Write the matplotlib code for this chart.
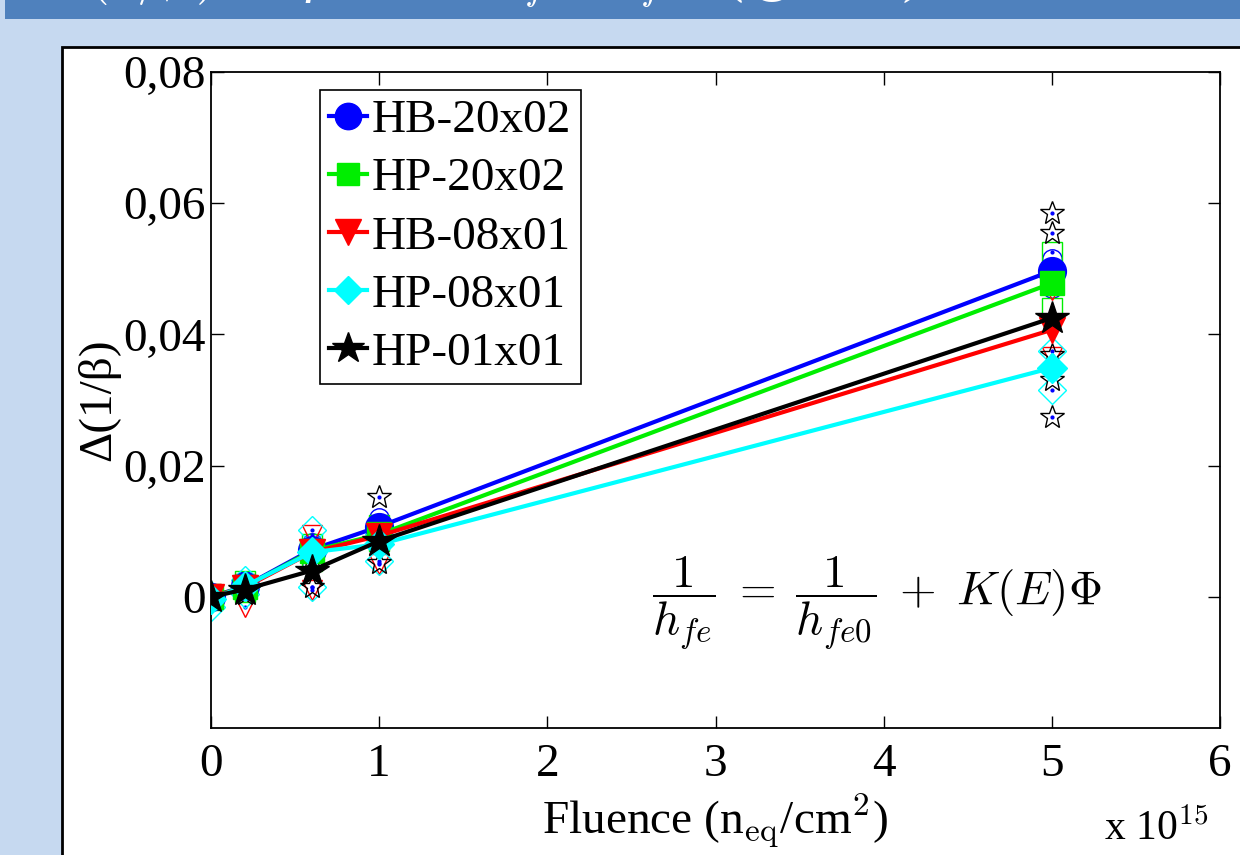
import matplotlib.pyplot as plt
from matplotlib.patches import Rectangle

# fluence in units of 1e15 n_eq/cm^2
fluence = [0, 0.2, 0.6, 1.0, 5.0]

names = ['HB-20x02', 'HP-20x02', 'HB-08x01', 'HP-08x01', 'HP-01x01']
colors = ['#0000ff', '#00ee00', '#ff0000', '#00ffff', '#000000']
markers = ['o', 's', 'v', 'D', '*']

# mean delta(1/beta) for each device type
hb_20x02 = [0.0, 0.0016, 0.0072, 0.0107, 0.0497]
hp_20x02 = [0.0, 0.0015, 0.0070, 0.0095, 0.0478]
hb_08x01 = [0.0, 0.0014, 0.0068, 0.0093, 0.0407]
hp_08x01 = [-0.0003, 0.0016, 0.0068, 0.0080, 0.0349]
hp_01x01 = [0.0, 0.0011, 0.0040, 0.0085, 0.0425]

# spread (highest / lowest sample) for each device type
hb_20x02_hi = [0.0005, 0.0024, 0.0082, 0.0120, 0.0515]
hb_20x02_lo = [-0.0005, 0.0010, 0.0050, 0.0095, 0.0470]
hp_20x02_hi = [0.0005, 0.0024, 0.0080, 0.0110, 0.0526]
hp_20x02_lo = [-0.0005, 0.0008, 0.0055, 0.0085, 0.0440]
hb_08x01_hi = [0.0005, 0.0020, 0.0094, 0.0100, 0.0468]
hb_08x01_lo = [-0.0008, -0.0015, 0.0010, 0.0050, 0.0366]
hp_08x01_hi = [0.0003, 0.0025, 0.0102, 0.0095, 0.0375]
hp_08x01_lo = [-0.0015, 0.0005, 0.0015, 0.0055, 0.0315]
hp_01x01_hi = [0.0005, 0.0020, 0.0060, 0.0152, 0.0585]
hp_01x01_lo = [-0.0005, 0.0005, 0.0015, 0.0052, 0.0274]

# extra individual samples drawn as open stars
extra_x = [5.0, 5.0, 5.0]
extra_y = [0.0555, 0.0369, 0.0330]

means = [hb_20x02, hp_20x02, hb_08x01, hp_08x01, hp_01x01]
highs = [hb_20x02_hi, hp_20x02_hi, hb_08x01_hi, hp_08x01_hi, hp_01x01_hi]
lows = [hb_20x02_lo, hp_20x02_lo, hb_08x01_lo, hp_08x01_lo, hp_01x01_lo]

plt.rcParams['font.family'] = ['Liberation Serif', 'DejaVu Serif']
plt.rcParams['mathtext.fontset'] = 'cm'

fig = plt.figure(figsize=(12.4, 8.55), dpi=100)
fig.patch.set_facecolor('#c6d9f0')

# slide title band and white figure panel
fig.patches.append(Rectangle((0.004, 1 - 19 / 855), 0.996, 19 / 855, transform=fig.transFigure,
                             facecolor='#4f81bd', edgecolor='none', zorder=0))
fig.patches.append(Rectangle((62 / 1240, -0.01), 1.0, 1 - 47 / 855 + 0.01, transform=fig.transFigure,
                             facecolor='white', edgecolor='black', linewidth=2.0, zorder=0))
fig.text(0.07, 1 + 9 / 855, r'$(1/\beta)$ vs. fluence  $h_{fe}$ / $h_{fe0}$  (@ $V_{BE}$)',
         color='white', fontsize=40, style='italic', va='baseline', ha='left', zorder=1)

ax = fig.add_axes([211 / 1240, 1 - 728 / 855, 1009 / 1240, 656 / 855])
ax.set_zorder(5)

# spread markers first
for hi, lo, c, m in zip(highs, lows, colors, markers):
    ms = 18 if m == '*' else 14
    ax.plot(fluence, hi, linestyle='none', marker=m, markersize=ms, markerfacecolor='none',
            markeredgecolor=c, markeredgewidth=1.0, zorder=2)
    ax.plot(fluence, lo, linestyle='none', marker=m, markersize=ms, markerfacecolor='none',
            markeredgecolor=c, markeredgewidth=1.0, zorder=2)
    ax.plot(fluence, hi, linestyle='none', marker='.', markersize=4, color='#0000ff', zorder=2)
    ax.plot(fluence, lo, linestyle='none', marker='.', markersize=4, color='#0000ff', zorder=2)
ax.plot(extra_x, extra_y, linestyle='none', marker='*', markersize=18, markerfacecolor='none',
        markeredgecolor='black', markeredgewidth=1.0, zorder=2)
ax.plot(extra_x, extra_y, linestyle='none', marker='.', markersize=4, color='#0000ff', zorder=2)

for y, c, m, name in zip(means, colors, markers, names):
    ms = {'o': 20, 's': 17, 'v': 19, 'D': 15, '*': 25}[m]
    ax.plot(fluence, y, color=c, marker=m, markersize=ms, linewidth=3, label=name, zorder=3)

ax.set_xlim(0, 6)
ax.set_ylim(-0.02, 0.08)
ax.set_xticks([0, 1, 2, 3, 4, 5, 6])
ax.set_yticks([0, 0.02, 0.04, 0.06, 0.08])
ax.set_yticklabels(['0', '0,02', '0,04', '0,06', '0,08'])
ax.tick_params(direction='in', length=9, width=1, top=True, right=True, labelsize=34)
ax.tick_params(axis='x', pad=11)
ax.tick_params(axis='y', pad=4)
for s in ax.spines.values():
    s.set_linewidth(1.3)

ax.set_ylabel('Δ(1/β)', fontsize=34, labelpad=2)
ax.set_xlabel('Fluence (n$_{\\rm eq}$/cm$^2$)', fontsize=34, labelpad=4)
ax.text(0.885, -0.122, r'x 10$^{15}$', transform=ax.transAxes, fontsize=30, ha='left', va='top')

ax.text(0.66, 0.19, r'$\dfrac{1}{h_{fe}}\;=\;\dfrac{1}{h_{fe0}}\;+\;K(E)\Phi$',
        transform=ax.transAxes, fontsize=34, ha='center', va='center')

leg = ax.legend(loc='upper left', bbox_to_anchor=(0.108, 0.973), borderaxespad=0, fontsize=34,
                fancybox=False, edgecolor='black', framealpha=1, handlelength=0.8,
                handletextpad=0.1, labelspacing=0.32, borderpad=0.2, markerscale=0.95)
leg.get_frame().set_linewidth(1.2)

fig.savefig('out.png', dpi=100, facecolor=fig.get_facecolor())
